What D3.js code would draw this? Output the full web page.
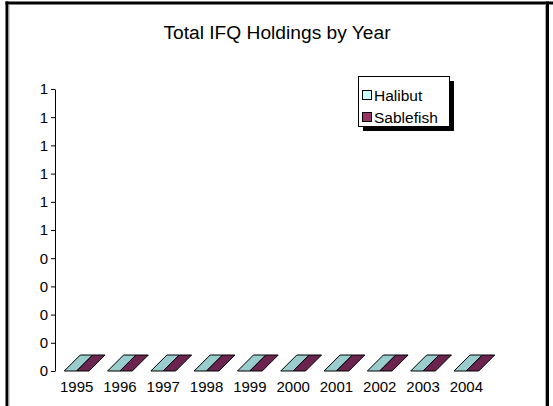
<!DOCTYPE html>
<html>
<head>
<meta charset="utf-8">
<script src="https://cdn.jsdelivr.net/npm/d3@7"></script>
<style>
  html, body { margin: 0; padding: 0; background: #fff; }
  svg { display: block; font-family: "Liberation Sans", Arial, sans-serif; }
</style>
</head>
<body>
<svg id="chart" width="553" height="406"></svg>
<script>
// Total IFQ holdings per year, two fisheries
const years = ["1995", "1996", "1997", "1998", "1999", "2000", "2001", "2002", "2003", "2004"];
const seriesNames = ["Halibut", "Sablefish"];
const halibut = [0, 0, 0, 0, 0, 0, 0, 0, 0, 0];
const sablefish = [0, 0, 0, 0, 0, 0, 0, 0, 0, 0];
const yTickValues = [0, 0.1, 0.2, 0.3, 0.4, 0.5, 0.6, 0.7, 0.8, 0.9, 1.0];

const seriesValues = [halibut, sablefish];
const faceColors = ["#99cccc", "#6b2450"];
const legendColors = ["#ccffff", "#993366"];

const svg = d3.select("#chart");

// outer frame: heavy black border with a thin grey inner edge
svg.append("line").attr("x1", 5.5).attr("x2", 553).attr("y1", 3).attr("y2", 3)
  .attr("stroke", "#000").attr("stroke-width", 3);
svg.append("line").attr("x1", 7).attr("x2", 7).attr("y1", 1.5).attr("y2", 406)
  .attr("stroke", "#000").attr("stroke-width", 3);
svg.append("line").attr("x1", 547.5).attr("x2", 547.5).attr("y1", 1.5).attr("y2", 406)
  .attr("stroke", "#000").attr("stroke-width", 3);
svg.append("line").attr("x1", 9).attr("x2", 9).attr("y1", 4.5).attr("y2", 406)
  .attr("stroke", "#aaa").attr("stroke-width", 1);
svg.append("line").attr("x1", 545.5).attr("x2", 545.5).attr("y1", 4.5).attr("y2", 406)
  .attr("stroke", "#aaa").attr("stroke-width", 1);

// title
svg.append("text")
  .attr("x", 277).attr("y", 39)
  .attr("text-anchor", "middle")
  .attr("font-size", 19.2)
  .text("Total IFQ Holdings by Year");

const plotLeft = 55, plotRight = 488, plotTop = 89, plotBottom = 371;

const x = d3.scaleBand()
  .domain(years)
  .range([plotLeft, plotRight])
  .paddingInner(1.5 / 3.5)
  .paddingOuter(0.75 / 3.5);

const xs = d3.scaleBand()
  .domain(seriesNames)
  .range([0, x.bandwidth()]);

const y = d3.scaleLinear()
  .domain([0, 1])
  .range([plotBottom, plotTop]);

// 3D depth offset of the columns
const depthX = 16, depthY = 16;

// value axis
const yAxis = d3.axisLeft(y)
  .tickValues(yTickValues)
  .tickSize(4)
  .tickSizeOuter(0)
  .tickPadding(3)
  .tickFormat(d => String(Math.round(d)));

const gy = svg.append("g")
  .attr("transform", `translate(${plotLeft},0)`)
  .call(yAxis);
gy.selectAll("text").attr("font-size", 15).attr("fill", "#000").attr("font-family", "Liberation Sans, Arial, sans-serif");
gy.selectAll("line").attr("stroke", "#000");
gy.select(".domain").attr("stroke", "#000");

// 3D columns
const bars = [];
years.forEach((yr, i) => {
  seriesNames.forEach((s, j) => {
    bars.push({ year: yr, series: s, j, value: seriesValues[j][i] });
  });
});

const barG = svg.append("g");
bars.forEach(b => {
  const x0 = x(b.year) + xs(b.series);
  const w = xs.bandwidth();
  const yv = y(b.value);
  const y0 = y(0);
  const g = barG.append("g");
  const c = d3.color(faceColors[b.j]);
  // front and side faces (only when the column has height)
  if (y0 - yv > 0) {
    g.append("rect").attr("x", x0).attr("y", yv).attr("width", w).attr("height", y0 - yv)
      .attr("fill", c.brighter(0.2)).attr("stroke", "#000").attr("stroke-width", 1);
    g.append("path")
      .attr("d", d3.line()([[x0 + w, yv], [x0 + w + depthX, yv - depthY], [x0 + w + depthX, y0 - depthY], [x0 + w, y0]]) + "Z")
      .attr("fill", c.darker(0.4)).attr("stroke", "#000").attr("stroke-width", 1);
  }
  // top face
  g.append("path")
    .attr("d", d3.line()([[x0, yv], [x0 + w, yv], [x0 + w + depthX, yv - depthY], [x0 + depthX, yv - depthY]]) + "Z")
    .attr("fill", c).attr("stroke", "#000").attr("stroke-width", 1)
    .attr("stroke-linejoin", "round");
});

// category labels
svg.append("g").selectAll("text")
  .data(years)
  .join("text")
  .attr("x", d => x(d) + x.bandwidth() / 2)
  .attr("y", 392)
  .attr("text-anchor", "middle")
  .attr("font-size", 15)
  .text(d => d);

// legend with drop shadow
const lg = svg.append("g").attr("transform", "translate(358,76)");
lg.append("rect").attr("x", 5).attr("y", 5).attr("width", 91).attr("height", 50).attr("fill", "#000");
lg.append("rect").attr("x", 0.5).attr("y", 0.5).attr("width", 91).attr("height", 50)
  .attr("fill", "#fff").attr("stroke", "#000").attr("stroke-width", 1);
seriesNames.forEach((s, j) => {
  const cy = 19 + j * 22;
  lg.append("rect").attr("x", 4.5).attr("y", cy - 4.5).attr("width", 9).attr("height", 9)
    .attr("fill", legendColors[j]).attr("stroke", "#000").attr("stroke-width", 1);
  lg.append("text").attr("x", 16).attr("y", cy + 5.5).attr("font-size", 15.5).text(s);
});
</script>
</body>
</html>
